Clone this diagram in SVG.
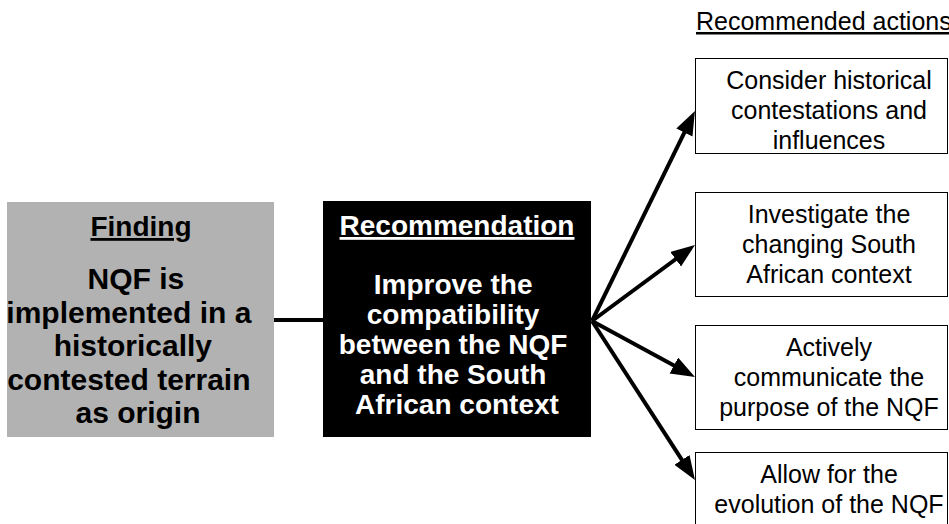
<svg xmlns="http://www.w3.org/2000/svg" width="949" height="524" viewBox="0 0 949 524">
<defs>
<marker id="ah" markerUnits="userSpaceOnUse" markerWidth="26" markerHeight="20" refX="8" refY="9" orient="auto">
<path d="M0,0 L24,9 L0,18 z" fill="#000"/>
</marker>
<style>
.b{font-family:"Liberation Sans",Arial,sans-serif;font-weight:bold;text-anchor:middle}
.r{font-family:"Liberation Sans",Arial,sans-serif;text-anchor:middle;font-size:25px;fill:#000}
.act{fill:#fff;stroke:#000;stroke-width:1}
.c{stroke:#000;stroke-width:4;fill:none}
</style>
</defs>
<rect width="949" height="524" fill="#fff"/>
<g id="connectors">
<line class="c" x1="273" y1="320" x2="325" y2="320"/>
<line class="c" x1="592" y1="321" x2="687.9" y2="125.4" marker-end="url(#ah)"/>
<line class="c" x1="592" y1="321" x2="682.1" y2="254.5" marker-end="url(#ah)"/>
<line class="c" x1="592" y1="321" x2="680.9" y2="369.3" marker-end="url(#ah)"/>
<line class="c" x1="592" y1="321" x2="686.3" y2="466.6" marker-end="url(#ah)"/>
</g>
<g id="finding">
<rect x="7" y="202" width="267" height="235" fill="#b2b2b2"/>
<text class="b" x="141" y="236" font-size="28" fill="#000" text-decoration="underline">Finding</text>
<text class="b" font-size="30" fill="#000">
<tspan x="140" y="289">NQF is</tspan>
<tspan x="133" y="323">implemented in a</tspan>
<tspan x="137" y="356">historically</tspan>
<tspan x="133" y="390">contested terrain</tspan>
<tspan x="138" y="423">as origin</tspan>
</text>
</g>
<g id="recommendation">
<rect x="323" y="201" width="268" height="236" fill="#000"/>
<text class="b" x="457" y="235" font-size="28" fill="#fff" text-decoration="underline">Recommendation</text>
<text class="b" font-size="28" fill="#fff">
<tspan x="457" y="294">Improve the</tspan>
<tspan x="457" y="324">compatibility</tspan>
<tspan x="457" y="354">between the NQF</tspan>
<tspan x="457" y="384">and the South</tspan>
<tspan x="457" y="414">African context</tspan>
</text>
</g>
<g id="actions-label">
<text x="696" y="30" font-family="Liberation Sans, Arial, sans-serif" font-size="25" fill="#000" text-decoration="underline">Recommended actions</text>
</g>
<g id="action1">
<rect class="act" x="695.5" y="58.5" width="252" height="95"/>
<text class="r"><tspan x="829" y="89">Consider historical</tspan><tspan x="829" y="119">contestations and</tspan><tspan x="829" y="149">influences</tspan></text>
</g>
<g id="action2">
<rect class="act" x="695.5" y="192.5" width="252" height="104"/>
<text class="r"><tspan x="829" y="223">Investigate the</tspan><tspan x="829" y="253">changing South</tspan><tspan x="829" y="283">African context</tspan></text>
</g>
<g id="action3">
<rect class="act" x="695.5" y="325.5" width="252" height="104"/>
<text class="r"><tspan x="829" y="356">Actively</tspan><tspan x="829" y="386">communicate the</tspan><tspan x="829" y="416">purpose of the NQF</tspan></text>
</g>
<g id="action4">
<rect class="act" x="695.5" y="452.5" width="252" height="104"/>
<text class="r"><tspan x="829" y="483">Allow for the</tspan><tspan x="829" y="513">evolution of the NQF</tspan></text>
</g>
</svg>
